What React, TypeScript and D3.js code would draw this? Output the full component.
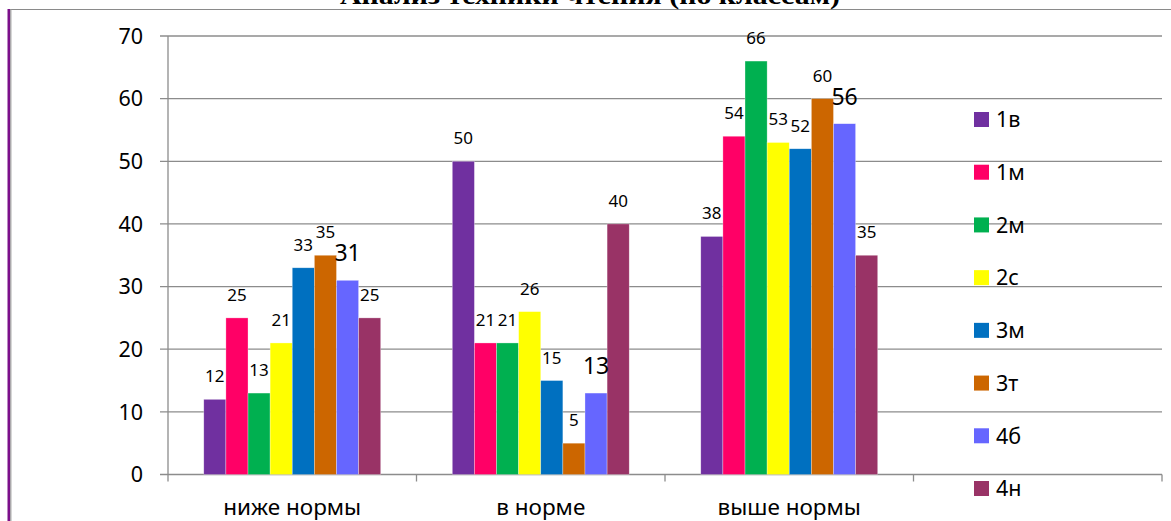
import React from "react";
import * as d3 from "d3";

const title = "Анализ техники чтения (по классам)";
const categories = ["ниже нормы", "в норме", "выше нормы", ""];
const seriesNames = ["1в", "1м", "2м", "2с", "3м", "3т", "4б", "4н"];
const seriesColors = ["#7030A0", "#FF0066", "#00B050", "#FFFF00", "#0070C0", "#CC6600", "#6666FF", "#993366"];
const v1v = [12, 50, 38];
const v1m = [25, 21, 54];
const v2m = [13, 21, 66];
const v2s = [21, 26, 53];
const v3m = [33, 15, 52];
const v3t = [35, 5, 60];
const v4b = [31, 13, 56];
const v4n = [25, 40, 35];
const seriesValues = [v1v, v1m, v2m, v2s, v3m, v3t, v4b, v4n];
const yTicks = [0, 10, 20, 30, 40, 50, 60, 70];

const FONT = "'Noto Sans', 'Open Sans', sans-serif";

export default function App() {
  const W = 1171, H = 521;
  const left = 168, right = 1162, top = 36, bottom = 474.5;
  const y = d3.scaleLinear().domain([0, 70]).range([bottom, top]);
  const x = d3.scaleBand<string>().domain(categories.map((c, i) => String(i))).range([left, right]).padding(0);
  const bw = x.bandwidth();
  const groupW = bw * 0.712;
  const inner = d3.scaleBand<string>().domain(seriesNames).range([0, groupW]).padding(0);
  const legendY = d3.scaleLinear().domain([0, 7]).range([119.5, 488.5]);

  return (
    <svg width={W} height={H} style={{ position: "absolute", left: 0, top: 0, background: "#fff" }}>
      <rect x={0} y={0} width={W} height={H} fill="#fff" />
      {/* frame */}
      <line x1={10} x2={W} y1={9.5} y2={9.5} stroke="#8a8a8a" strokeWidth={1.2} />
      <rect x={7.5} y={9} width={2.6} height={H} fill="#7B0F8A" />
      <line x1={10.8} x2={10.8} y1={9} y2={H} stroke="#9a9a9a" strokeWidth={1.2} />
      {/* title (cut off at top, as in the reference) */}
      <text x={590} y={4} textAnchor="middle" fontFamily="'Liberation Serif', serif" fontSize={26} fontWeight="bold" textLength={500} lengthAdjust="spacingAndGlyphs" fill="#000">{title}</text>

      {/* gridlines */}
      {yTicks.map((t) => (
        <line key={t} x1={left - 8} x2={right} y1={y(t)} y2={y(t)} stroke="#8c8c8c" strokeWidth={1.3} />
      ))}
      {/* y axis */}
      <line x1={left} x2={left} y1={top} y2={bottom + 7} stroke="#8c8c8c" strokeWidth={1.3} />
      {/* x ticks */}
      {categories.map((c, i) => (
        <line key={i} x1={x(String(i))! + bw} x2={x(String(i))! + bw} y1={bottom} y2={bottom + 7} stroke="#8c8c8c" strokeWidth={1.3} />
      ))}
      {/* y labels */}
      {yTicks.map((t) => (
        <text key={t} x={left - 25} y={y(t)} dy="0.36em" textAnchor="end" fontFamily={FONT} fontSize={21.5} fill="#000">{t}</text>
      ))}
      {/* x labels */}
      {categories.map((c, i) => (
        <text key={i} x={x(String(i))! + bw / 2} y={515} textAnchor="middle" fontFamily={FONT} fontSize={22.5} fill="#000">{c}</text>
      ))}

      {/* bars */}
      {seriesValues.map((vals, si) =>
        vals.map((v, ci) => {
          const bx = x(String(ci))! + (bw - groupW) / 2 + inner(seriesNames[si])!;
          return (
            <rect key={`${si}-${ci}`} x={bx} y={y(v)} width={inner.bandwidth()} height={bottom - y(v)} fill={seriesColors[si]} stroke="#ffffff" strokeOpacity={0.5} strokeWidth={0.6} />
          );
        })
      )}
      {/* data labels */}
      {seriesValues.map((vals, si) =>
        vals.map((v, ci) => {
          const cx = x(String(ci))! + (bw - groupW) / 2 + inner(seriesNames[si])! + inner.bandwidth() / 2;
          const big = seriesNames[si] === "4б";
          return (
            <text key={`l${si}-${ci}`} x={cx} y={y(v) - (big ? 19 : 17)} textAnchor="middle" fontFamily={FONT} fontSize={big ? 23 : 17} fill="#000">{v}</text>
          );
        })
      )}

      {/* legend */}
      {seriesNames.map((s, i) => (
        <g key={s} transform={`translate(974, ${legendY(i)})`}>
          <rect x={0} y={-7.5} width={15} height={15} fill={seriesColors[i]} />
          <text x={22} y={0} dy="0.36em" fontFamily={FONT} fontSize={21.5} fill="#000">{s}</text>
        </g>
      ))}
    </svg>
  );
}
